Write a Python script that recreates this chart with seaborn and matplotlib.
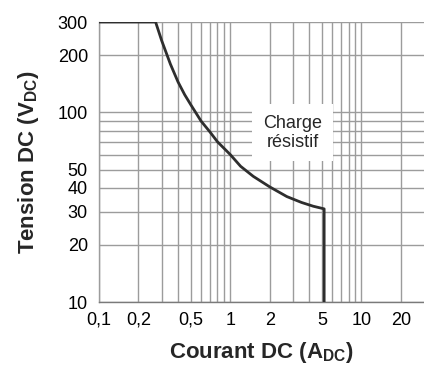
import numpy as np
import pandas as pd
import matplotlib
matplotlib.use("Agg")
import matplotlib.pyplot as plt
import seaborn as sns

# --- valeurs (courbe de coupure DC, charge résistive) ---
courant = [0.1, 0.27, 0.30, 0.35, 0.40, 0.45, 0.50, 0.60, 0.70, 0.80, 1.0, 1.2,
           1.5, 2.0, 2.7, 3.5, 4.3, 5.2, 5.2]
tension = [300, 300, 240, 180, 145, 124, 110, 90, 79, 70, 60, 52,
           46, 40.5, 36, 33.5, 32, 31, 10]

x_ticks = [0.1, 0.2, 0.5, 1, 2, 5, 10, 20]
x_labels = ["0,1", "0,2", "0,5", "1", "2", "5", "10", "20"]
y_ticks = [10, 20, 30, 40, 50, 100, 200, 300]
y_labels = ["10", "20", "30", "40", "50", "100", "200", "300"]

x_grid = [0.1, 0.2, 0.3, 0.4, 0.5, 0.6, 0.7, 0.8, 0.9,
          1, 2, 3, 4, 5, 6, 7, 8, 9, 10, 20]
y_grid = [10, 20, 30, 40, 50, 60, 70, 80, 90, 100, 200, 300]

df = pd.DataFrame({"Courant": courant, "Tension": tension})

sns.set_theme(style="white")
plt.rcParams["font.family"] = ["Liberation Sans", "DejaVu Sans"]
plt.rcParams["mathtext.fontset"] = "custom"
plt.rcParams["mathtext.rm"] = "Liberation Sans:bold"
plt.rcParams["mathtext.it"] = "Liberation Sans:bold"
plt.rcParams["mathtext.bf"] = "Liberation Sans:bold"
plt.rcParams["mathtext.default"] = "bf"

fig = plt.figure(figsize=(4.24, 3.65), dpi=100)
ax = fig.add_axes([0.2335, 0.1726, 0.7665, 0.7671])

ax.set_xscale("log")
ax.set_yscale("log")
ax.set_xlim(0.1, 30)
ax.set_ylim(10, 300)

# grille
for xv in x_grid:
    ax.axvline(xv, color="#9c9c9c", lw=1.0, zorder=1)
for yv in y_grid:
    ax.axhline(yv, color="#9c9c9c", lw=1.0, zorder=1)

# zone d'annotation
ax.text(3.0, 78, "Charge\nrésistif", ha="center", va="center", fontsize=13,
        linespacing=1.1, zorder=3,
        bbox=dict(boxstyle="square,pad=0.6", facecolor="white", edgecolor="none"))

sns.lineplot(data=df, x="Courant", y="Tension", sort=False, estimator=None,
             color="#2e2e2e", lw=2.0, ax=ax, zorder=4)

ax.set_xticks(x_ticks)
ax.set_xticklabels(x_labels)
ax.set_yticks(y_ticks)
ax.set_yticklabels(y_labels)
ax.minorticks_off()
ax.tick_params(axis="both", length=0, labelsize=13, colors="black")
ax.tick_params(axis="x", pad=7)
ax.tick_params(axis="y", pad=8)

for side in ["top", "right"]:
    ax.spines[side].set_visible(False)
ax.spines["left"].set_color("#9c9c9c")
ax.spines["bottom"].set_color("#7a7a7a")
ax.spines["left"].set_linewidth(1.0)
ax.spines["bottom"].set_linewidth(1.0)

ax.set_xlabel(r"Courant DC (A$_{DC}$)", fontsize=16, fontweight="bold", labelpad=8)
ax.set_ylabel(r"Tension DC (V$_{DC}$)", fontsize=16, fontweight="bold", labelpad=12)

fig.savefig("out.png", dpi=100)
